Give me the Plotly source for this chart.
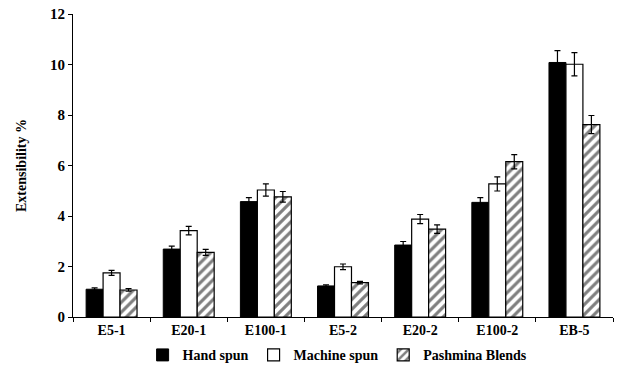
import plotly.graph_objects as go

categories = ["E5-1", "E20-1", "E100-1", "E5-2", "E20-2", "E100-2", "EB-5"]

hand_spun = [1.10, 2.69, 4.57, 1.23, 2.85, 4.54, 10.08]
hand_err = [0.05, 0.12, 0.16, 0.04, 0.14, 0.19, 0.47]

machine_spun = [1.75, 3.42, 5.03, 1.99, 3.88, 5.27, 10.01]
machine_err = [0.10, 0.17, 0.24, 0.11, 0.18, 0.28, 0.46]

pashmina = [1.07, 2.56, 4.76, 1.36, 3.48, 6.15, 7.62]
pashmina_err = [0.05, 0.12, 0.21, 0.05, 0.17, 0.28, 0.36]

font_family = "Liberation Serif, Times New Roman, serif"

def err(vals):
    return dict(type="data", array=vals, visible=True, color="black",
                thickness=1.2, width=3)

fig = go.Figure()
fig.add_trace(go.Bar(
    name="Hand spun", x=categories, y=hand_spun, error_y=err(hand_err),
    marker=dict(color="black", line=dict(color="black", width=1)),
))
fig.add_trace(go.Bar(
    name="Machine spun", x=categories, y=machine_spun, error_y=err(machine_err),
    marker=dict(color="white", line=dict(color="black", width=1.2)),
))
fig.add_trace(go.Bar(
    name="Pashmina Blends", x=categories, y=pashmina, error_y=err(pashmina_err),
    marker=dict(color="white", line=dict(color="black", width=1.2),
                pattern=dict(shape="/", fgcolor="black", bgcolor="white",
                             size=7, solidity=0.45)),
))

fig.update_layout(
    width=617, height=374,
    margin=dict(l=73, r=4, t=14, b=57, autoexpand=False),
    paper_bgcolor="white", plot_bgcolor="white",
    barmode="group", bargap=0.34, bargroupgap=0,
    font=dict(family=font_family, size=14, color="black", weight="bold"),
    showlegend=True,
    legend=dict(orientation="h", x=0.49, xanchor="center",
                yref="container", y=0.05, yanchor="middle",
                font=dict(size=14, weight="bold"),
                itemwidth=30, traceorder="normal"),
    xaxis=dict(
        showline=True, linecolor="black", linewidth=1,
        ticks="outside", tickson="boundaries", ticklen=4,
        tickcolor="black", showgrid=False,
        tickfont=dict(size=14, weight="bold"),
    ),
    yaxis=dict(
        range=[0, 12], dtick=2, showline=True, linecolor="black",
        linewidth=1, ticks="outside", ticklen=4, tickcolor="black",
        showgrid=False, zeroline=False,
        tickfont=dict(size=15, weight="bold"),
        title=dict(text="Extensibility %", font=dict(size=14, weight="bold"),
                   standoff=20),
    ),
)

fig.write_html("out.html")
